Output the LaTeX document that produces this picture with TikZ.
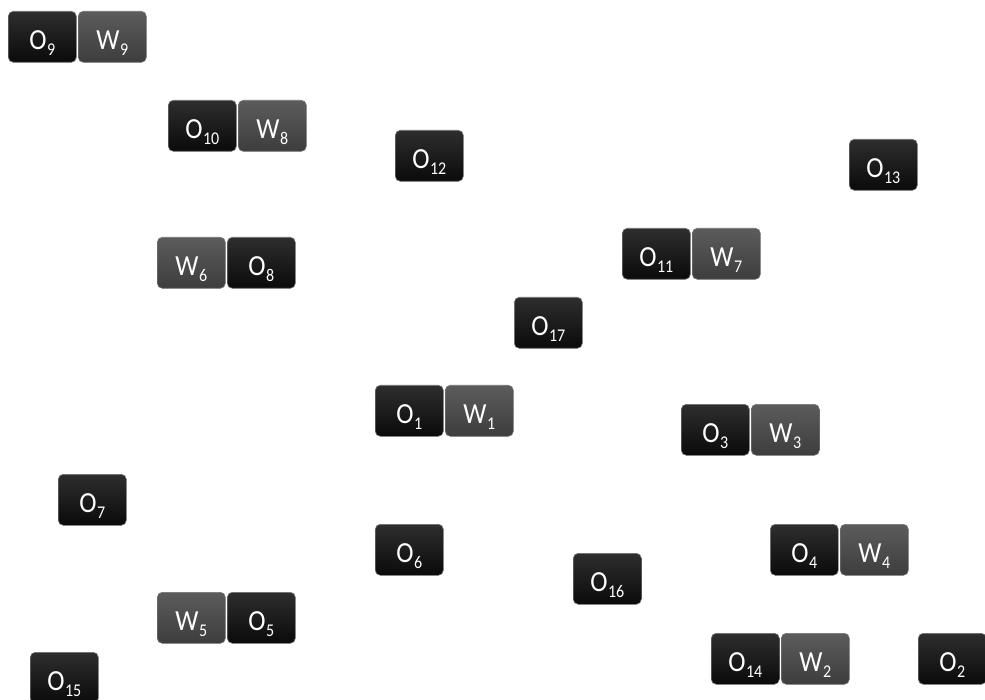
\documentclass[tikz,border=0pt]{standalone}
\usepackage{fontspec}
\setmainfont{Carlito}
\tikzset{
  x=1pt,y=-1pt,
  key/.style={rounded corners=5pt,minimum width=68pt,minimum height=51pt,inner sep=0pt,
    text=white,font=\fontsize{26}{26}\selectfont,text height=25pt,text depth=0pt,
    draw=black!55,line width=0.6pt,anchor=north west},
  okey/.style={key,top color=black!82,bottom color=black!96},
  wkey/.style={key,top color=black!64,bottom color=black!76}
}
\newcommand{\klab}[2]{\scalebox{1}[1.12]{#1\kern0.5pt\raisebox{-0.22em}{\fontsize{16}{16}\selectfont #2}}}
\begin{document}
\begin{tikzpicture}
\useasboundingbox (0,0) rectangle (985,700);
\node[okey] (o9) at (8,11) {\klab{O}{9}};
\node[wkey] (w9) at (78,11) {\klab{W}{9}};
\node[okey] (o10) at (168,100) {\klab{O}{10}};
\node[wkey] (w8) at (238,100) {\klab{W}{8}};
\node[okey] (o12) at (395,130) {\klab{O}{12}};
\node[okey] (o13) at (849,139) {\klab{O}{13}};
\node[wkey] (w6) at (157,237) {\klab{W}{6}};
\node[okey] (o8) at (227,237) {\klab{O}{8}};
\node[okey] (o11) at (622,228) {\klab{O}{11}};
\node[wkey] (w7) at (692,228) {\klab{W}{7}};
\node[okey] (o17) at (514,297) {\klab{O}{17}};
\node[okey] (o1) at (375,385) {\klab{O}{1}};
\node[wkey] (w1) at (445,385) {\klab{W}{1}};
\node[okey] (o3) at (681,404) {\klab{O}{3}};
\node[wkey] (w3) at (751,404) {\klab{W}{3}};
\node[okey] (o7) at (58,474) {\klab{O}{7}};
\node[okey] (o6) at (375,524) {\klab{O}{6}};
\node[okey] (o16) at (573,553) {\klab{O}{16}};
\node[okey] (o4) at (770,524) {\klab{O}{4}};
\node[wkey] (w4) at (840,524) {\klab{W}{4}};
\node[wkey] (w5) at (157,592) {\klab{W}{5}};
\node[okey] (o5) at (227,592) {\klab{O}{5}};
\node[okey] (o15) at (30,652) {\klab{O}{15}};
\node[okey] (o14) at (711,633) {\klab{O}{14}};
\node[wkey] (w2) at (781,633) {\klab{W}{2}};
\node[okey] (o2) at (918,633) {\klab{O}{2}};
\end{tikzpicture}
\end{document}
